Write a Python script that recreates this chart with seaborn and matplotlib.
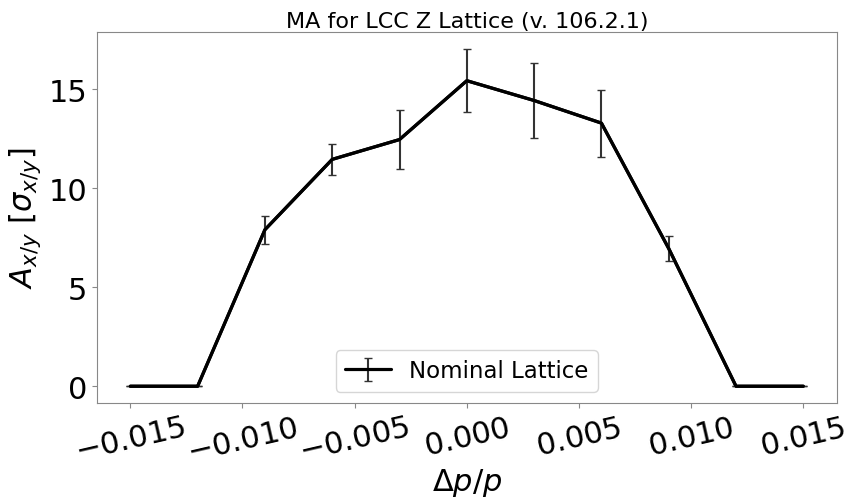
import numpy as np
import pandas as pd
import matplotlib
matplotlib.use('Agg')
import matplotlib.pyplot as plt
import seaborn as sns

# momentum offsets and dynamic aperture values
dp = [-0.015, -0.012, -0.009, -0.006, -0.003, 0.0, 0.003, 0.006, 0.009, 0.012, 0.015]
amp = [0.0, 0.0, 7.9, 11.45, 12.45, 15.42, 14.42, 13.28, 6.95, 0.0, 0.0]
err = [0.0, 0.0, 0.7, 0.77, 1.5, 1.6, 1.88, 1.69, 0.65, 0.0, 0.0]

df = pd.DataFrame({'dp': dp, 'amp': amp, 'err': err})

sns.set_style('ticks')
plt.rcParams['text.color'] = 'black'
plt.rcParams['axes.labelcolor'] = 'black'
plt.rcParams['xtick.color'] = 'black'
plt.rcParams['ytick.color'] = 'black'

fig, ax = plt.subplots(figsize=(8.48, 5.02), dpi=100)
fig.subplots_adjust(left=0.114, right=0.987, top=0.934, bottom=0.195)

sns.lineplot(data=df, x='dp', y='amp', color='black', lw=2.3, ax=ax)
ax.errorbar(df['dp'], df['amp'], yerr=df['err'], fmt='-', color='black', lw=2.3,
            ecolor='#333333', elinewidth=1.5, capsize=3, label='Nominal Lattice')

ax.set_title('MA for LCC Z Lattice (v. 106.2.1)', fontsize=16, color='black', pad=4)
ax.set_xlabel(r'$\Delta p/p$', fontsize=22, labelpad=0)
ax.set_ylabel(r'$A_{x/y}\ [\sigma_{x/y}]$', fontsize=22)
ax.set_xticks([-0.015, -0.010, -0.005, 0.0, 0.005, 0.010, 0.015])
ax.set_xticklabels(['$-0.015$', '$-0.010$', '$-0.005$', '$0.000$', '$0.005$', '$0.010$', '$0.015$'])
ax.set_yticks([0, 5, 10, 15])
ax.tick_params(axis='both', labelsize=22, labelcolor='black', color='#888888')
plt.setp(ax.get_xticklabels(), rotation=13)
for s in ax.spines.values():
    s.set_color('#888888')
ax.legend(loc='lower center', fontsize=16.5)

fig.savefig('out.png', dpi=100)
